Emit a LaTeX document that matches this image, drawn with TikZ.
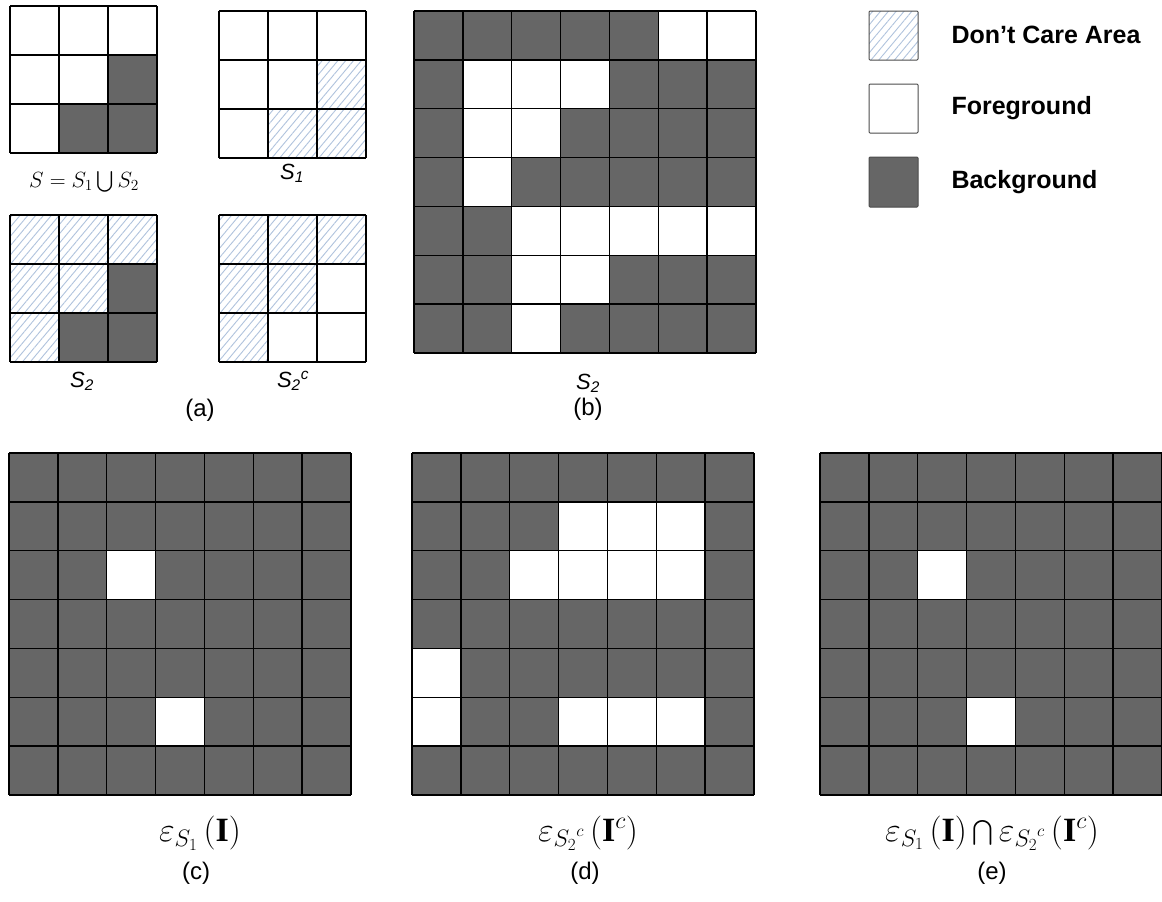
\RequirePackage{fix-cm}
\documentclass[tikz,border=0pt]{standalone}
\usepackage{amsmath}
\usepackage{fontspec}
\setmainfont{Liberation Serif}
\setsansfont{Liberation Sans}
\usetikzlibrary{patterns.meta}

\definecolor{fondogris}{HTML}{666666}
\definecolor{rayado}{HTML}{B0C3DD}

\tikzset{
  rejilla/.style={line width=1.5pt, black},
  fondo/.style={fill=fondogris},
  primer/.style={fill=white},
  nocare/.style={pattern={Lines[angle=50,distance=6pt,line width=0.9pt]}, pattern color=rayado},
  caja/.style={line width=1pt, draw=black!70, rounded corners=1pt},
  leyenda/.style={anchor=west, font=\sffamily\bfseries\fontsize{25}{29}\selectfont},
  subfig/.style={font=\sffamily\fontsize{24}{28}\selectfont},
  nombre/.style={font=\sffamily\itshape\fontsize{22}{26}\selectfont},
  formula/.style={font=\fontsize{34}{40}\selectfont}
}

\begin{document}
\begin{tikzpicture}[x=1pt,y=-1pt]
  \useasboundingbox (0,0) rectangle (1162,902);
  \def\chico{49}
  \def\lado{48.86}

  % (a) S
  \begin{scope}[shift={(10,6)}]
    \fill[primer] (0,0) rectangle (147,147);
    \foreach \c/\r in {3/2,2/3,3/3}
      \fill[fondo] ({(\c-1)*\chico},{(\r-1)*\chico}) rectangle ++(\chico,\chico);
    \foreach \i in {0,...,3} {
      \draw[rejilla] ({\i*\chico},0) -- ({\i*\chico},147);
      \draw[rejilla] (0,{\i*\chico}) -- (147,{\i*\chico});
    }
  \end{scope}

  % (a) S1
  \begin{scope}[shift={(219,11)}]
    \fill[primer] (0,0) rectangle (147,147);
    \foreach \c/\r in {3/2,2/3,3/3}
      \fill[nocare] ({(\c-1)*\chico},{(\r-1)*\chico}) rectangle ++(\chico,\chico);
    \foreach \i in {0,...,3} {
      \draw[rejilla] ({\i*\chico},0) -- ({\i*\chico},147);
      \draw[rejilla] (0,{\i*\chico}) -- (147,{\i*\chico});
    }
  \end{scope}

  % (a) S2
  \begin{scope}[shift={(10,215)}]
    \fill[primer] (0,0) rectangle (147,147);
    \fill[nocare] (0,0) rectangle (147,147);
    \foreach \c/\r in {3/2,2/3,3/3}
      \fill[fondo] ({(\c-1)*\chico},{(\r-1)*\chico}) rectangle ++(\chico,\chico);
    \foreach \i in {0,...,3} {
      \draw[rejilla] ({\i*\chico},0) -- ({\i*\chico},147);
      \draw[rejilla] (0,{\i*\chico}) -- (147,{\i*\chico});
    }
  \end{scope}

  % (a) S2c
  \begin{scope}[shift={(219,215)}]
    \fill[primer] (0,0) rectangle (147,147);
    \foreach \c/\r in {1/1,2/1,3/1,1/2,2/2,1/3}
      \fill[nocare] ({(\c-1)*\chico},{(\r-1)*\chico}) rectangle ++(\chico,\chico);
    \foreach \i in {0,...,3} {
      \draw[rejilla] ({\i*\chico},0) -- ({\i*\chico},147);
      \draw[rejilla] (0,{\i*\chico}) -- (147,{\i*\chico});
    }
  \end{scope}

  % etiquetas (a)
  \node[formula, font=\fontsize{22}{26}\selectfont] (lblS) at (84,182) {$S = S_1 \bigcup S_2$};
  \node[nombre] (lblSuno) at (292,173) {S\textsubscript{1}};
  \node[nombre] (lblSdos) at (82,381) {S\textsubscript{2}};
  \node[nombre] (lblSdosc) at (293,381) {S\textsubscript{2}\textsuperscript{c}};
  \node[subfig] (lbla) at (200,410) {(a)};

  % (b)
  \begin{scope}[shift={(414,11)}]
    \fill[fondo] (0,0) rectangle (342,342);
    \foreach \c/\r in {6/1,7/1,2/2,3/2,4/2,2/3,3/3,2/4,3/5,4/5,5/5,6/5,7/5,3/6,4/6,3/7}
      \fill[primer] ({(\c-1)*\lado},{(\r-1)*\lado}) rectangle ++(\lado,\lado);
    \foreach \i in {0,...,7} {
      \draw[rejilla] ({\i*\lado},0) -- ({\i*\lado},342);
      \draw[rejilla] (0,{\i*\lado}) -- (342,{\i*\lado});
    }
  \end{scope}
  \node[nombre] (lblSdosb) at (588,383) {S\textsubscript{2}};
  \node[subfig] (lblb) at (588,409) {(b)};

  % leyenda
  \draw[caja, nocare] (869,11) rectangle (918,60);
  \draw[caja] (869,84) rectangle (918,133);
  \draw[caja, fondo] (869,157) rectangle (918,207);
  \node[leyenda] (leyuno) at (948,35) {Don’t Care Area};
  \node[leyenda] (leydos) at (948,108) {Foreground};
  \node[leyenda] (leytres) at (948,182) {Background};

  % (c)
  \begin{scope}[shift={(9,453)}]
    \fill[fondo] (0,0) rectangle (342,342);
    \foreach \c/\r in {3/3,4/6}
      \fill[primer] ({(\c-1)*\lado},{(\r-1)*\lado}) rectangle ++(\lado,\lado);
    \foreach \i in {0,...,7} {
      \draw[rejilla] ({\i*\lado},0) -- ({\i*\lado},342);
      \draw[rejilla] (0,{\i*\lado}) -- (342,{\i*\lado});
    }
  \end{scope}
  \node[formula] (lblfc) at (200,833) {$\varepsilon_{S_1}\,(\mathbf{I})$};
  \node[subfig] (lblc) at (196,873) {(c)};

  % (d)
  \begin{scope}[shift={(412,453)}]
    \fill[fondo] (0,0) rectangle (342,342);
    \foreach \c/\r in {4/2,5/2,6/2,3/3,4/3,5/3,6/3,1/5,1/6,4/6,5/6,6/6}
      \fill[primer] ({(\c-1)*\lado},{(\r-1)*\lado}) rectangle ++(\lado,\lado);
    \foreach \i in {0,...,7} {
      \draw[rejilla] ({\i*\lado},0) -- ({\i*\lado},342);
      \draw[rejilla] (0,{\i*\lado}) -- (342,{\i*\lado});
    }
  \end{scope}
  \node[formula] (lblfd) at (588,833) {$\varepsilon_{{S_2}^c}\,(\mathbf{I}^c)$};
  \node[subfig] (lbld) at (585,873) {(d)};

  % (e)
  \begin{scope}[shift={(820,453)}]
    \fill[fondo] (0,0) rectangle (342,342);
    \foreach \c/\r in {3/3,4/6}
      \fill[primer] ({(\c-1)*\lado},{(\r-1)*\lado}) rectangle ++(\lado,\lado);
    \foreach \i in {0,...,7} {
      \draw[rejilla] ({\i*\lado},0) -- ({\i*\lado},342);
      \draw[rejilla] (0,{\i*\lado}) -- (342,{\i*\lado});
    }
  \end{scope}
  \node[formula] (lblfe) at (992,833) {$\varepsilon_{S_1}\,(\mathbf{I}) \bigcap \varepsilon_{{S_2}^c}\,(\mathbf{I}^c)$};
  \node[subfig] (lble) at (992,873) {(e)};
\end{tikzpicture}
\end{document}
